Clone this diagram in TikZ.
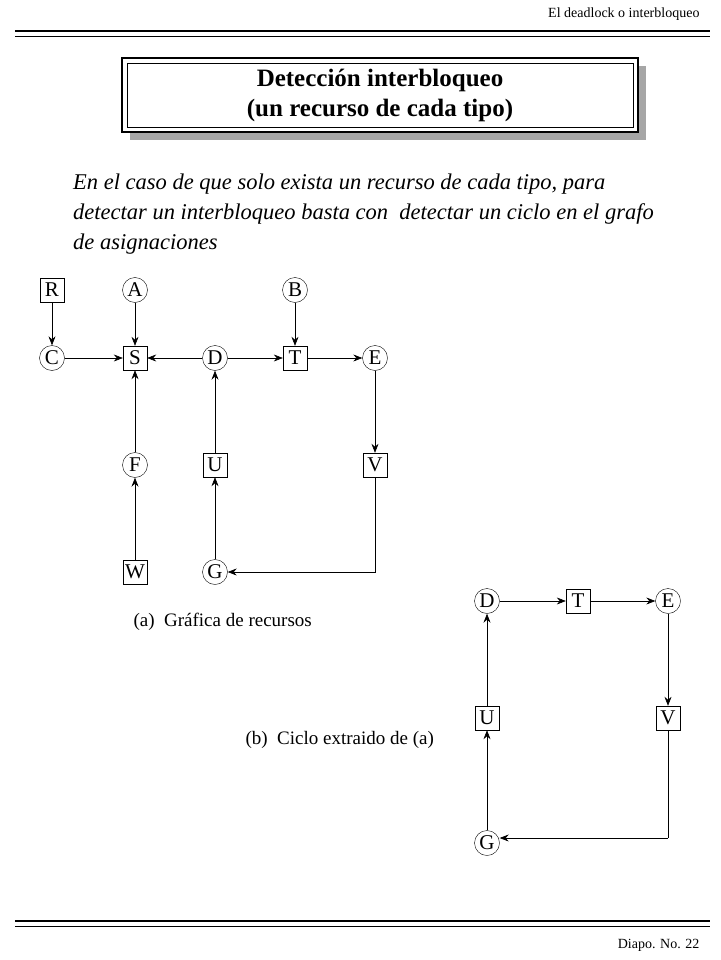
\documentclass[tikz,border=0pt]{standalone}
\usepackage{fontspec}
\setmainfont{Liberation Serif}
\usetikzlibrary{arrows.meta}
\tikzset{
  res/.style={draw, minimum size=24pt, inner sep=0pt, font=\fontsize{21}{21}\selectfont},
  proc/.style={draw, circle, minimum size=25pt, inner sep=0pt, font=\fontsize{21}{21}\selectfont},
  edge/.style={-{Stealth[length=9pt,width=7pt,inset=3pt]}, semithick}
}
\begin{document}
\begin{tikzpicture}[x=1pt,y=-1pt]
  \useasboundingbox (0,0) rectangle (720,960);

  % header and footer
  \node[anchor=east, font=\fontsize{14}{14}\selectfont] (hdr) at (703,14) {El deadlock o interbloqueo};
  \draw[line width=1.6pt] (15,31) -- (710,31);
  \draw[line width=0.8pt] (15,36) -- (710,36);
  \draw[line width=1.6pt] (15,921) -- (710,921);
  \draw[line width=0.8pt] (15,926) -- (710,926);
  \node[anchor=east, font=\fontsize{14}{14}\selectfont] (ftr) at (703,945) {Diapo. No. 22};

  % title box
  \fill[gray!70] (130,66) rectangle (646,140);
  \draw[fill=white, line width=2.5pt] (122,58) rectangle (638,132);
  \draw[line width=0.8pt] (127,63) rectangle (633,127);
  \node[align=center, font=\bfseries\fontsize{25}{30}\selectfont] (title) at (380,95)
    {Detección interbloqueo\\(un recurso de cada tipo)};

  % paragraph
  \node[anchor=north west, align=left, inner sep=0pt, font=\itshape\fontsize{22.5}{30}\selectfont] (txt) at (73,174)
    {En el caso de que solo exista un recurso de cada tipo, para\\
     detectar un interbloqueo basta con \ detectar un ciclo en el grafo\\
     de asignaciones};

  % graph (a)
  \node[res]  (R) at (52,290) {R};
  \node[proc] (A) at (135,290) {A};
  \node[proc] (B) at (295,290) {B};
  \node[proc] (C) at (52,358) {C};
  \node[res]  (S) at (135,358) {S};
  \node[proc] (D) at (215,358) {D};
  \node[res]  (T) at (295,358) {T};
  \node[proc] (E) at (375,358) {E};
  \node[proc] (F) at (135,465) {F};
  \node[res]  (U) at (215,465) {U};
  \node[res]  (V) at (375,465) {V};
  \node[res]  (W) at (135,572) {W};
  \node[proc] (G) at (215,572) {G};
  \draw[edge] (R) -- (C);
  \draw[edge] (A) -- (S);
  \draw[edge] (B) -- (T);
  \draw[edge] (C) -- (S);
  \draw[edge] (D) -- (S);
  \draw[edge] (D) -- (T);
  \draw[edge] (T) -- (E);
  \draw[edge] (E) -- (V);
  \draw[edge] (F) -- (S);
  \draw[edge] (W) -- (F);
  \draw[edge] (U) -- (D);
  \draw[edge] (G) -- (U);
  \draw[edge] (V) |- (G);
  \node[anchor=west, font=\fontsize{19}{19}\selectfont] (capa) at (130,622) {(a)\ \ Gráfica de recursos};

  % graph (b)
  \node[proc] (D2) at (487,601) {D};
  \node[res]  (T2) at (578,601) {T};
  \node[proc] (E2) at (668,601) {E};
  \node[res]  (U2) at (487,718) {U};
  \node[res]  (V2) at (668,718) {V};
  \node[proc] (G2) at (487,843) {G};
  \coordinate (K) at (668,838);
  \draw[edge] (D2) -- (T2);
  \draw[edge] (T2) -- (E2);
  \draw[edge] (E2) -- (V2);
  \draw[edge] (U2) -- (D2);
  \draw[edge] (G2) -- (U2);
  \draw[semithick] (V2) -- (K);
  \draw[edge] (K) -- (G2.east |- K);
  \node[anchor=west, font=\fontsize{19}{19}\selectfont] (capb) at (242,740) {(b)\ \ Ciclo extraido de (a)};
\end{tikzpicture}
\end{document}
